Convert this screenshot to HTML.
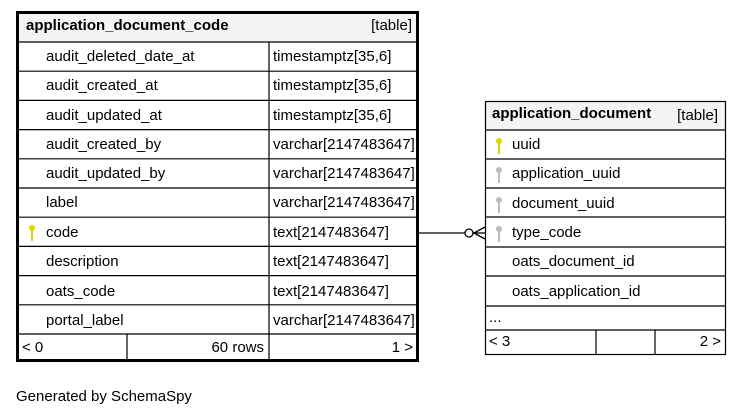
<!DOCTYPE html>
<html><head><meta charset="utf-8"><style>
html,body{margin:0;padding:0;background:#fff;}
svg{display:block;font-family:"Liberation Sans","DejaVu Sans",sans-serif;font-size:15px;}
</style></head><body>
<svg width="741" height="417" viewBox="0 0 741 417" xmlns="http://www.w3.org/2000/svg">
<rect x="0" y="0" width="741" height="417" fill="#fff"/>
<rect x="17" y="12" width="401" height="30" fill="#f4f4f4"/>
<g stroke="#000" stroke-width="1.2">
<line x1="17" y1="42" x2="418" y2="42"/>
<line x1="17" y1="71.2" x2="418" y2="71.2"/>
<line x1="17" y1="100.4" x2="418" y2="100.4"/>
<line x1="17" y1="129.6" x2="418" y2="129.6"/>
<line x1="17" y1="158.8" x2="418" y2="158.8"/>
<line x1="17" y1="188" x2="418" y2="188"/>
<line x1="17" y1="217.2" x2="418" y2="217.2"/>
<line x1="17" y1="246.4" x2="418" y2="246.4"/>
<line x1="17" y1="275.6" x2="418" y2="275.6"/>
<line x1="17" y1="304.8" x2="418" y2="304.8"/>
<line x1="17" y1="334" x2="418" y2="334"/>
<line x1="269" y1="42" x2="269" y2="360"/>
<line x1="127" y1="334" x2="127" y2="360"/>
</g>
<rect x="17.5" y="12.5" width="400" height="348" fill="none" stroke="#000" stroke-width="3"/>
<text x="26" y="30" font-weight="bold">application_document_code</text>
<text x="412" y="30" text-anchor="end">[table]</text>
<g>
<text x="46" y="61">audit_deleted_date_at</text><text x="273" y="61">timestamptz[35,6]</text>
<text x="46" y="90">audit_created_at</text><text x="273" y="90">timestamptz[35,6]</text>
<text x="46" y="120">audit_updated_at</text><text x="273" y="120">timestamptz[35,6]</text>
<text x="46" y="149">audit_created_by</text><text x="273" y="149">varchar[2147483647]</text>
<text x="46" y="178">audit_updated_by</text><text x="273" y="178">varchar[2147483647]</text>
<text x="46" y="207">label</text><text x="273" y="207">varchar[2147483647]</text>
<text x="46" y="237">code</text><text x="273" y="237">text[2147483647]</text>
<text x="46" y="266">description</text><text x="273" y="266">text[2147483647]</text>
<text x="46" y="296">oats_code</text><text x="273" y="296">text[2147483647]</text>
<text x="46" y="325">portal_label</text><text x="273" y="325">varchar[2147483647]</text>
<text x="22" y="352">&lt; 0</text>
<text x="264" y="352" text-anchor="end">60 rows</text>
<text x="413" y="352" text-anchor="end">1 &gt;</text>
</g>
<g fill="#d8d800"><circle cx="32" cy="228" r="3"/><rect x="31" y="229" width="2" height="12"/></g>
<rect x="486" y="101" width="240" height="29" fill="#f4f4f4"/>
<g stroke="#000" stroke-width="1.2">
<rect x="485.5" y="101.5" width="240" height="253" fill="none"/>
<line x1="486" y1="130" x2="726" y2="130"/>
<line x1="486" y1="159" x2="726" y2="159"/>
<line x1="486" y1="188" x2="726" y2="188"/>
<line x1="486" y1="217" x2="726" y2="217"/>
<line x1="486" y1="247" x2="726" y2="247"/>
<line x1="486" y1="276" x2="726" y2="276"/>
<line x1="486" y1="306" x2="726" y2="306"/>
<line x1="486" y1="330" x2="726" y2="330"/>
<line x1="596" y1="330" x2="596" y2="354"/>
<line x1="655" y1="330" x2="655" y2="354"/>
</g>
<text x="492" y="118" font-weight="bold">application_document</text>
<text x="718" y="120" text-anchor="end">[table]</text>
<text x="512" y="149">uuid</text>
<text x="512" y="178">application_uuid</text>
<text x="512" y="208">document_uuid</text>
<text x="512" y="237">type_code</text>
<text x="512" y="266">oats_document_id</text>
<text x="512" y="296">oats_application_id</text>
<text x="489" y="322">...</text>
<text x="489" y="346">&lt; 3</text>
<text x="721" y="346" text-anchor="end">2 &gt;</text>
<g fill="#d8d800"><circle cx="499" cy="141" r="3"/><rect x="498" y="142" width="2" height="12"/></g>
<g fill="#bbb">
<circle cx="499" cy="170" r="3"/><rect x="498" y="171" width="2" height="12"/>
<circle cx="499" cy="200" r="3"/><rect x="498" y="201" width="2" height="12"/>
<circle cx="499" cy="229" r="3"/><rect x="498" y="230" width="2" height="12"/>
</g>
<g stroke="#000" stroke-width="1.3" fill="none">
<line x1="419" y1="233" x2="465" y2="233"/>
<circle cx="469" cy="233" r="4" fill="#fff"/>
<line x1="473" y1="233" x2="485" y2="233"/>
<line x1="474" y1="233" x2="485" y2="227"/>
<line x1="474" y1="233" x2="485" y2="239"/>
</g>
<text x="16" y="401">Generated by SchemaSpy</text>
</svg>
</body></html>
